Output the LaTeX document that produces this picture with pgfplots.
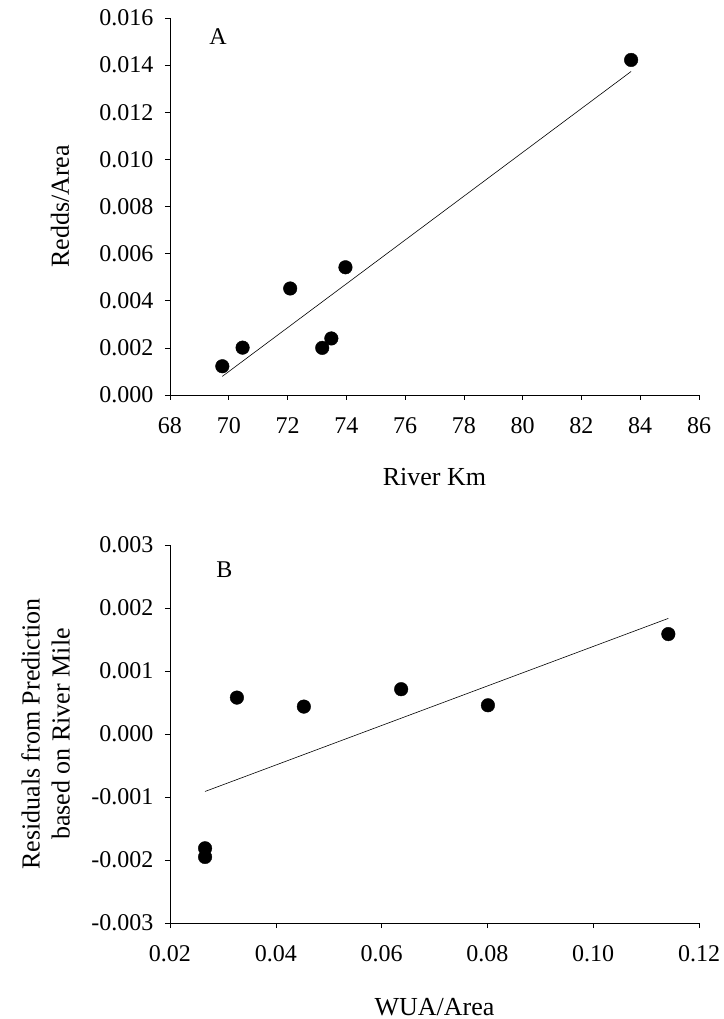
\documentclass[border=0pt]{standalone}
\usepackage{fontspec}
\setmainfont{Liberation Serif}
\usepackage{pgfplots}
\pgfplotsset{compat=1.18}

\pgfplotsset{
  panel/.style={
    scale only axis,
    width=529bp,
    axis lines*=left,
    axis line style={black, line width=0.6pt},
    tick align=outside,
    major tick length=5bp,
    tick style={black, line width=0.6pt},
    /pgf/number format/assume math mode=true,
    every tick label/.append style={font=\fontsize{24bp}{28bp}\selectfont},
    xticklabel style={yshift=-14bp},
    yticklabel style={xshift=-8bp},
    label style={font=\fontsize{26bp}{30bp}\selectfont},
    clip=false,
  },
  dots/.style={only marks, mark=*, mark size=6.8bp, black},
  fit/.style={black, line width=0.6pt, no marks},
}

\begin{document}
\begin{tikzpicture}
  \path[use as bounding box] (-170bp,-96bp) rectangle (554bp,923bp);

  %% panel A
  \begin{axis}[panel, at={(0,528bp)}, height=377bp,
    xmin=68, xmax=86, ymin=0, ymax=0.016,
    xtick={68,70,...,86},
    ytick={0,0.002,...,0.016},
    scaled y ticks=false,
    yticklabel style={/pgf/number format/.cd, fixed, fixed zerofill, precision=3},
    xlabel={River Km}, ylabel={Redds/Area},
    xlabel style={at={(axis description cs:0.5,-0.2175)}, anchor=center},
    ylabel style={at={(axis description cs:-0.208,0.5)}, anchor=center},
  ]
  \addplot[dots] coordinates {
    (69.78,0.00122) (70.47,0.00201) (72.09,0.00452) (73.18,0.00200)
    (73.49,0.00240) (73.97,0.00542) (83.69,0.01422)};
  \addplot[fit] coordinates {(69.78,0.00079) (83.69,0.01373)};
  \node[font=\fontsize{24bp}{28bp}\selectfont] at (rel axis cs:0.091,0.95) {A};
  \end{axis}

  %% panel B
  \begin{axis}[panel, at={(0,0)}, height=378bp,
    xmin=0.02, xmax=0.12, ymin=-0.003, ymax=0.003,
    xtick={0.02,0.04,...,0.12},
    ytick={-0.003,-0.002,...,0.003},
    scaled x ticks=false, scaled y ticks=false,
    xticklabel style={/pgf/number format/.cd, fixed, fixed zerofill, precision=2},
    yticklabel style={/pgf/number format/.cd, fixed, fixed zerofill, precision=3},
    xlabel={WUA/Area},
    ylabel={Residuals from Prediction\\based on River Mile},
    xlabel style={at={(axis description cs:0.5,-0.222)}, anchor=center},
    ylabel style={at={(axis description cs:-0.235,0.5)}, anchor=center, align=center},
  ]
  \addplot[dots] coordinates {
    (0.02663,-0.001814) (0.02663,-0.001952) (0.03265,0.000578) (0.0453,0.000435)
    (0.0637,0.000711) (0.0801,0.000456) (0.1142,0.001586)};
  \addplot[fit] coordinates {(0.02663,-0.000912) (0.1142,0.001835)};
  \node[font=\fontsize{24bp}{28bp}\selectfont] at (rel axis cs:0.103,0.936) {B};
  \end{axis}
\end{tikzpicture}
\end{document}
